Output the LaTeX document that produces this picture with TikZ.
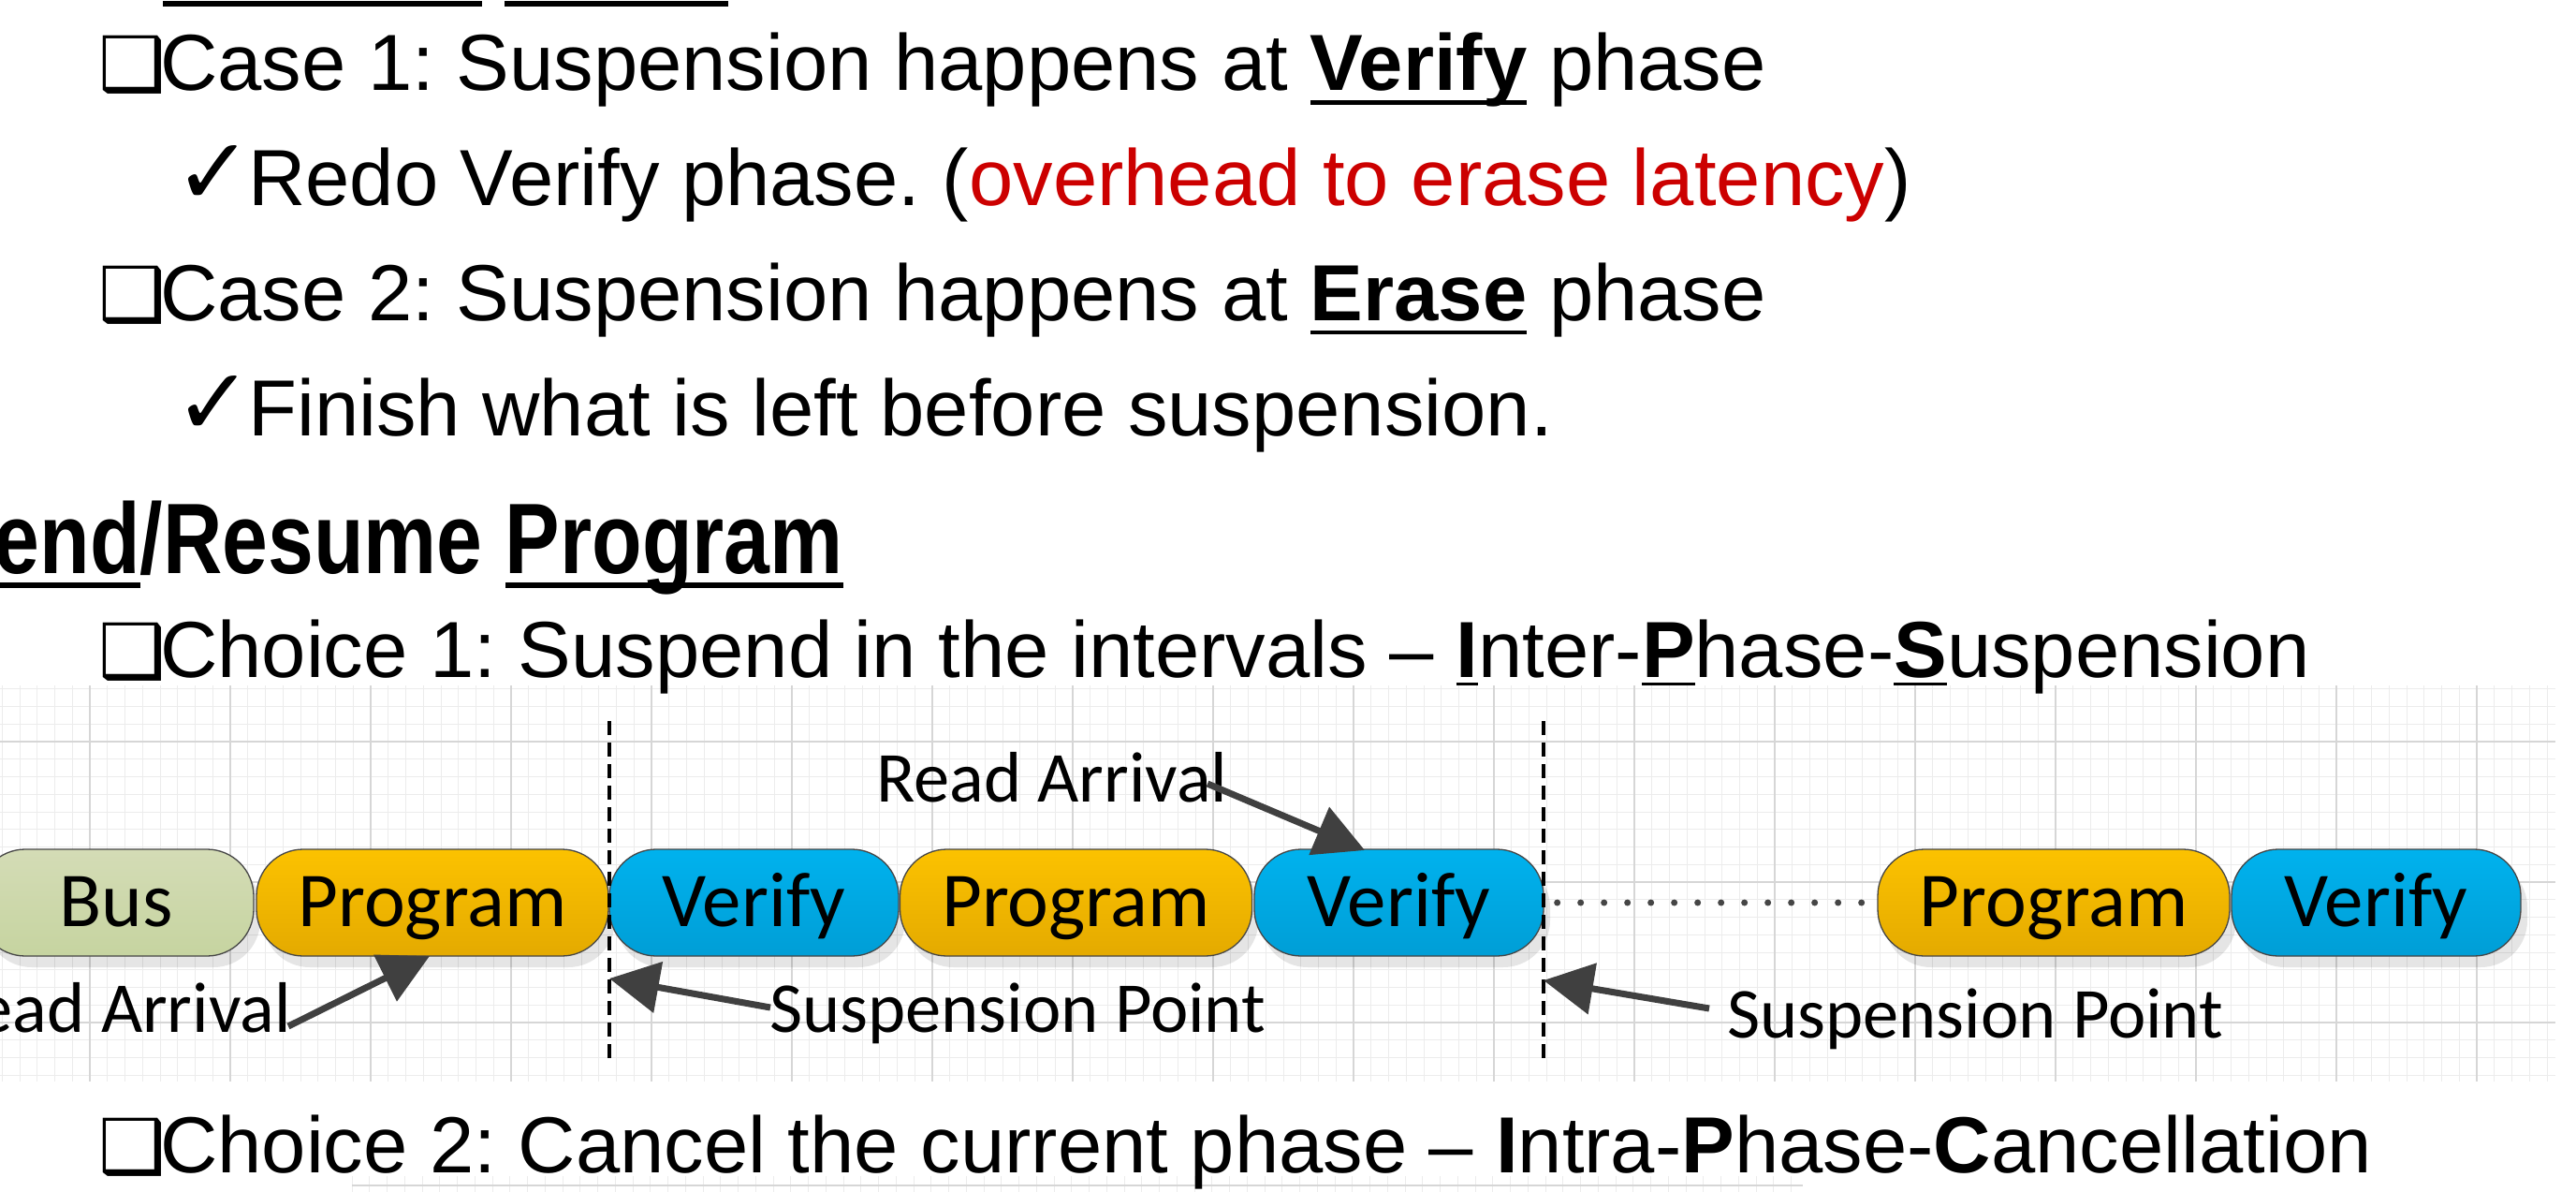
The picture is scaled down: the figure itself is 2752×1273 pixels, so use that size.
\documentclass[tikz,border=0pt]{standalone}
\usepackage{fontspec}
\setmainfont{Liberation Sans}
\newfontfamily\symfont{DejaVu Sans}
\newfontfamily\diagfont{Carlito}
\newfontfamily\narrowfont{Liberation Sans}[FakeStretch=0.82]
\usetikzlibrary{arrows.meta,shadows}
\frenchspacing

\definecolor{progtop}{RGB}{252,194,0}
\definecolor{progbot}{RGB}{228,170,0}
\definecolor{vertop}{RGB}{0,178,238}
\definecolor{verbot}{RGB}{0,158,214}
\definecolor{bustop}{RGB}{212,220,182}
\definecolor{busbot}{RGB}{198,212,160}
\definecolor{edgegray}{RGB}{70,70,70}
\definecolor{arrowgray}{RGB}{64,64,64}
\definecolor{latred}{RGB}{204,0,0}
\definecolor{gridminor}{RGB}{236,236,236}
\definecolor{gridmajor}{RGB}{214,214,214}

% underline bar: #1 = drop below baseline, #2 = thickness, #3 = text
\newcommand\ulbar[3]{\setbox0=\hbox{#3}\rlap{\rule[-#1]{\wd0}{#2}}\box0\relax}
\newcommand\sqbullet{\makebox[66pt][l]{\symfont\fontsize{80}{90}\selectfont ❑}}
\newcommand\tick{\makebox[67pt][l]{\hspace*{-12pt}\rlap{\raisebox{1pt}{\symfont\fontsize{100}{110}\selectfont ✓}}}}

\begin{document}
\begin{tikzpicture}[x=1pt,y=-1pt,
  bodytext/.style={anchor=base west,inner sep=0pt,font=\fontsize{85}{100}\selectfont},
  phase/.style={draw=edgegray,line width=1.3pt,rounded corners=50pt,
    minimum height=114pt,inner sep=0pt,text height=53pt,text depth=2pt,
    font=\diagfont\fontsize{83}{95}\selectfont,
    drop shadow={shadow xshift=7pt,shadow yshift=-12pt,fill=black,opacity=0.1}},
  progbox/.style={phase,top color=progtop,bottom color=progbot,minimum width=376pt},
  verbox/.style={phase,top color=vertop,bottom color=verbot,minimum width=309pt},
  busbox/.style={phase,top color=bustop,bottom color=busbot,minimum width=294pt},
  label/.style={inner sep=0pt,font=\diagfont\fontsize{76.5}{85}\selectfont},
  pointer/.style={draw=arrowgray,line width=7pt,-{Triangle[length=53pt,width=54pt]}},
  cutline/.style={line width=3.5pt,dash pattern=on 15pt off 8pt},
]
\useasboundingbox (0,0) rectangle (2752,1273);
\clip (0,0) rectangle (2752,1273);
\fill[white] (0,0) rectangle (2752,1273);

% underlines of the heading above the visible area
\fill[black] (174,1.5) rectangle (515,7.5);
\fill[black] (539,1.5) rectangle (778,7.5);

% timing-diagram grid
\foreach \i in {0,...,145}
  \draw[gridminor,line width=1pt] ({2.25+\i*18.75},732) -- ({2.25+\i*18.75},1155);
\foreach \j in {0,...,22}
  \draw[gridminor,line width=1pt] (0,{735.75+\j*18.75}) -- (2730,{735.75+\j*18.75});
\foreach \k in {0,...,17}
  \draw[gridmajor,line width=1.5pt] ({96+\k*150},732) -- ({96+\k*150},1155);
\foreach \y in {792,942,1092}
  \draw[gridmajor,line width=1.5pt] (0,\y) -- (2730,\y);

% grid of the next diagram, starting at the lower edge
\foreach \i in {0,...,82}
  \draw[gridminor,line width=1pt] ({376+\i*18.75},1256) -- ({376+\i*18.75},1273);
\draw[gridmajor,line width=1.5pt] (376,1266) -- (1926,1266);

% bullet text
\node[bodytext] (case1) at (105,97) {\sqbullet Case 1: Suspension happens at \ulbar{15pt}{4.5pt}{\textbf{Verify}} phase};
\node[bodytext] (redo) at (198,220) {\tick Redo Verify phase. ({\color{latred}overhead to erase latency})};
\node[bodytext] (case2) at (105,342) {\sqbullet Case 2: Suspension happens at \ulbar{15pt}{4.5pt}{\textbf{Erase}} phase};
\node[bodytext] (finish) at (198,465) {\tick Finish what is left before suspension.};
\node[anchor=base east,inner sep=0pt,font=\narrowfont\bfseries\fontsize{107}{120}\selectfont] (heading) at (901,612)
  {\ulbar{16pt}{6pt}{end}/Resume \ulbar{16pt}{6pt}{Program}};
\node[bodytext] (choice1) at (105,723) {\sqbullet Choice 1: Suspend in the intervals -- \ulbar{9pt}{3pt}{\textbf{I}}nter-\ulbar{9pt}{3pt}{\textbf{P}}hase-\ulbar{9pt}{3pt}{\textbf{S}}uspension};
\node[bodytext] (choice2) at (105,1252) {\sqbullet Choice 2: Cancel the current phase -- \textbf{I}ntra-\textbf{P}hase-\textbf{C}ancellation};

% phases
\node[busbox] (bus) at (124,964) {Bus};
\node[progbox] (prog1) at (462,964) {Program};
\node[verbox] (ver1) at (805.5,964) {Verify};
\node[progbox] (prog2) at (1149.5,964) {Program};
\node[verbox] (ver2) at (1494.5,964) {Verify};
\node[progbox] (prog3) at (2194,964) {Program};
\node[verbox] (ver3) at (2538.5,964) {Verify};

% elided phases
\draw[draw=edgegray,line width=7pt,line cap=round,dash pattern=on 0pt off 25pt]
  ([xshift=14pt]ver2.east) -- ([xshift=-10pt]prog3.west);

% suspension points
\coordinate (cut1top) at (651,770);
\coordinate (cut1bot) at (651,1133);
\coordinate (cut2top) at (1649,770);
\coordinate (cut2bot) at (1649,1133);
\draw[cutline] (cut1top) -- (cut1bot);
\draw[cutline] (cut2top) -- (cut2bot);

% annotations
\node[label,anchor=base east] (ra1) at (311,1102) {ead Arrival};
\node[label,anchor=base west] (sp1) at (822,1102) {Suspension Point};
\node[label,anchor=base west] (ra2) at (936,856) {Read Arrival};
\node[label,anchor=base west] (sp2) at (1845,1108) {Suspension Point};

\coordinate (ra1tail) at (308,1096);
\coordinate (ra1tip) at (459,1021);
\coordinate (sp1tail) at (823,1076);
\coordinate (sp1tip) at (651,1045);
\coordinate (ra2tail) at (1290,837);
\coordinate (ra2tip) at (1458,908);
\coordinate (sp2tail) at (1826,1077);
\coordinate (sp2tip) at (1649,1047);

\draw[pointer] (ra1tail) -- (ra1tip);
\draw[pointer] (sp1tail) -- (sp1tip);
\draw[pointer] (ra2tail) -- (ra2tip);
\draw[pointer] (sp2tail) -- (sp2tip);
\end{tikzpicture}
\end{document}
